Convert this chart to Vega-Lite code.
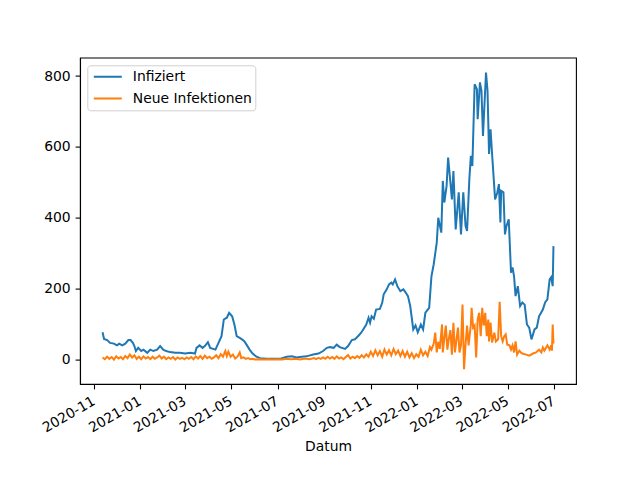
{
  "$schema": "https://vega.github.io/schema/vega-lite/v6.json",
  "width": 496,
  "height": 326.4,
  "autosize": {"type": "none"},
  "padding": {"left": 80, "top": 57.6, "right": 64, "bottom": 96},
  "config": {
    "font": "DejaVu Sans",
    "view": {"stroke": "black", "strokeWidth": 1.1},
    "axis": {
      "grid": false,
      "domainColor": "black",
      "domainWidth": 1.1,
      "tickColor": "black",
      "tickWidth": 1.1,
      "tickSize": 4.9,
      "labelPadding": 4.9,
      "labelFontSize": 13.9,
      "labelColor": "black",
      "labelOverlap": false,
      "titleFontSize": 13.9,
      "titleFontWeight": "normal",
      "titleColor": "black"
    }
  },
  "datasets": {
    "infiziert": [
      {"Datum": "2020-11-12", "Wert": 77}, {"Datum": "2020-11-14", "Wert": 58}, {"Datum": "2020-11-18", "Wert": 55}, {"Datum": "2020-11-22", "Wert": 47}, {"Datum": "2020-11-27", "Wert": 45},
      {"Datum": "2020-12-01", "Wert": 40}, {"Datum": "2020-12-04", "Wert": 45}, {"Datum": "2020-12-08", "Wert": 40}, {"Datum": "2020-12-12", "Wert": 45}, {"Datum": "2020-12-16", "Wert": 55},
      {"Datum": "2020-12-19", "Wert": 55}, {"Datum": "2020-12-22", "Wert": 47}, {"Datum": "2020-12-24", "Wert": 38}, {"Datum": "2020-12-26", "Wert": 24}, {"Datum": "2020-12-29", "Wert": 33},
      {"Datum": "2021-01-02", "Wert": 24}, {"Datum": "2021-01-05", "Wert": 28}, {"Datum": "2021-01-10", "Wert": 19}, {"Datum": "2021-01-14", "Wert": 28}, {"Datum": "2021-01-18", "Wert": 24},
      {"Datum": "2021-01-23", "Wert": 28}, {"Datum": "2021-01-27", "Wert": 38}, {"Datum": "2021-01-31", "Wert": 28}, {"Datum": "2021-02-04", "Wert": 24}, {"Datum": "2021-02-09", "Wert": 21},
      {"Datum": "2021-02-16", "Wert": 19}, {"Datum": "2021-02-22", "Wert": 19}, {"Datum": "2021-03-01", "Wert": 17}, {"Datum": "2021-03-08", "Wert": 19}, {"Datum": "2021-03-14", "Wert": 17},
      {"Datum": "2021-03-16", "Wert": 33}, {"Datum": "2021-03-20", "Wert": 40}, {"Datum": "2021-03-24", "Wert": 33}, {"Datum": "2021-03-27", "Wert": 38}, {"Datum": "2021-03-31", "Wert": 49},
      {"Datum": "2021-04-03", "Wert": 33}, {"Datum": "2021-04-10", "Wert": 28}, {"Datum": "2021-04-14", "Wert": 47}, {"Datum": "2021-04-18", "Wert": 66}, {"Datum": "2021-04-21", "Wert": 113},
      {"Datum": "2021-04-25", "Wert": 118}, {"Datum": "2021-04-28", "Wert": 132}, {"Datum": "2021-05-02", "Wert": 122}, {"Datum": "2021-05-05", "Wert": 99}, {"Datum": "2021-05-08", "Wert": 66},
      {"Datum": "2021-05-12", "Wert": 61}, {"Datum": "2021-05-15", "Wert": 57}, {"Datum": "2021-05-18", "Wert": 52}, {"Datum": "2021-05-21", "Wert": 42}, {"Datum": "2021-05-25", "Wert": 28},
      {"Datum": "2021-05-29", "Wert": 17}, {"Datum": "2021-06-03", "Wert": 8}, {"Datum": "2021-06-08", "Wert": 4}, {"Datum": "2021-06-17", "Wert": 2}, {"Datum": "2021-07-04", "Wert": 2},
      {"Datum": "2021-07-13", "Wert": 8}, {"Datum": "2021-07-20", "Wert": 9}, {"Datum": "2021-07-26", "Wert": 6}, {"Datum": "2021-08-02", "Wert": 8}, {"Datum": "2021-08-08", "Wert": 9},
      {"Datum": "2021-08-17", "Wert": 14}, {"Datum": "2021-08-24", "Wert": 17}, {"Datum": "2021-08-30", "Wert": 24}, {"Datum": "2021-09-04", "Wert": 33}, {"Datum": "2021-09-08", "Wert": 35},
      {"Datum": "2021-09-13", "Wert": 33}, {"Datum": "2021-09-17", "Wert": 42}, {"Datum": "2021-09-21", "Wert": 35}, {"Datum": "2021-09-28", "Wert": 30}, {"Datum": "2021-10-02", "Wert": 38},
      {"Datum": "2021-10-07", "Wert": 55}, {"Datum": "2021-10-11", "Wert": 57}, {"Datum": "2021-10-16", "Wert": 68}, {"Datum": "2021-10-19", "Wert": 75}, {"Datum": "2021-10-22", "Wert": 85},
      {"Datum": "2021-10-26", "Wert": 99}, {"Datum": "2021-10-29", "Wert": 118}, {"Datum": "2021-10-31", "Wert": 104}, {"Datum": "2021-11-02", "Wert": 122}, {"Datum": "2021-11-05", "Wert": 115},
      {"Datum": "2021-11-08", "Wert": 141}, {"Datum": "2021-11-13", "Wert": 143}, {"Datum": "2021-11-16", "Wert": 160}, {"Datum": "2021-11-18", "Wert": 184}, {"Datum": "2021-11-22", "Wert": 198},
      {"Datum": "2021-11-25", "Wert": 212}, {"Datum": "2021-11-28", "Wert": 217}, {"Datum": "2021-11-30", "Wert": 212}, {"Datum": "2021-12-03", "Wert": 226}, {"Datum": "2021-12-06", "Wert": 207},
      {"Datum": "2021-12-10", "Wert": 193}, {"Datum": "2021-12-14", "Wert": 198}, {"Datum": "2021-12-17", "Wert": 189}, {"Datum": "2021-12-20", "Wert": 179}, {"Datum": "2021-12-23", "Wert": 151},
      {"Datum": "2021-12-27", "Wert": 85}, {"Datum": "2021-12-30", "Wert": 96}, {"Datum": "2022-01-02", "Wert": 77}, {"Datum": "2022-01-06", "Wert": 99}, {"Datum": "2022-01-09", "Wert": 85},
      {"Datum": "2022-01-12", "Wert": 132}, {"Datum": "2022-01-17", "Wert": 146}, {"Datum": "2022-01-20", "Wert": 235}, {"Datum": "2022-01-23", "Wert": 269}, {"Datum": "2022-01-27", "Wert": 330},
      {"Datum": "2022-01-29", "Wert": 400}, {"Datum": "2022-02-02", "Wert": 358}, {"Datum": "2022-02-04", "Wert": 504}, {"Datum": "2022-02-06", "Wert": 443}, {"Datum": "2022-02-09", "Wert": 490},
      {"Datum": "2022-02-11", "Wert": 570}, {"Datum": "2022-02-14", "Wert": 500}, {"Datum": "2022-02-16", "Wert": 452}, {"Datum": "2022-02-18", "Wert": 532}, {"Datum": "2022-02-21", "Wert": 367},
      {"Datum": "2022-02-25", "Wert": 472}, {"Datum": "2022-02-28", "Wert": 353}, {"Datum": "2022-03-03", "Wert": 472}, {"Datum": "2022-03-06", "Wert": 377}, {"Datum": "2022-03-08", "Wert": 363},
      {"Datum": "2022-03-11", "Wert": 509}, {"Datum": "2022-03-13", "Wert": 575}, {"Datum": "2022-03-15", "Wert": 546}, {"Datum": "2022-03-18", "Wert": 777}, {"Datum": "2022-03-21", "Wert": 763},
      {"Datum": "2022-03-22", "Wert": 678}, {"Datum": "2022-03-25", "Wert": 782}, {"Datum": "2022-03-27", "Wert": 758}, {"Datum": "2022-03-29", "Wert": 631}, {"Datum": "2022-04-02", "Wert": 810},
      {"Datum": "2022-04-04", "Wert": 758}, {"Datum": "2022-04-06", "Wert": 580}, {"Datum": "2022-04-08", "Wert": 650}, {"Datum": "2022-04-10", "Wert": 580}, {"Datum": "2022-04-14", "Wert": 452},
      {"Datum": "2022-04-17", "Wert": 472}, {"Datum": "2022-04-19", "Wert": 495}, {"Datum": "2022-04-21", "Wert": 387}, {"Datum": "2022-04-22", "Wert": 476}, {"Datum": "2022-04-25", "Wert": 472},
      {"Datum": "2022-04-27", "Wert": 353}, {"Datum": "2022-04-29", "Wert": 377}, {"Datum": "2022-05-02", "Wert": 396}, {"Datum": "2022-05-05", "Wert": 245}, {"Datum": "2022-05-07", "Wert": 260},
      {"Datum": "2022-05-09", "Wert": 235}, {"Datum": "2022-05-11", "Wert": 179}, {"Datum": "2022-05-14", "Wert": 207}, {"Datum": "2022-05-17", "Wert": 151}, {"Datum": "2022-05-20", "Wert": 161},
      {"Datum": "2022-05-23", "Wert": 155}, {"Datum": "2022-05-26", "Wert": 99}, {"Datum": "2022-05-29", "Wert": 90}, {"Datum": "2022-06-01", "Wert": 57}, {"Datum": "2022-06-05", "Wert": 85},
      {"Datum": "2022-06-08", "Wert": 90}, {"Datum": "2022-06-11", "Wert": 122}, {"Datum": "2022-06-16", "Wert": 141}, {"Datum": "2022-06-19", "Wert": 161}, {"Datum": "2022-06-22", "Wert": 170},
      {"Datum": "2022-06-25", "Wert": 226}, {"Datum": "2022-06-27", "Wert": 232}, {"Datum": "2022-06-29", "Wert": 207}, {"Datum": "2022-06-30", "Wert": 320}
    ],
    "neu": [
      {"Datum": "2020-11-12", "Wert": 6}, {"Datum": "2020-11-15", "Wert": 1}, {"Datum": "2020-11-18", "Wert": 8}, {"Datum": "2020-11-21", "Wert": 2}, {"Datum": "2020-11-24", "Wert": 7},
      {"Datum": "2020-11-27", "Wert": 0}, {"Datum": "2020-11-30", "Wert": 9}, {"Datum": "2020-12-03", "Wert": 3}, {"Datum": "2020-12-06", "Wert": 7}, {"Datum": "2020-12-09", "Wert": 1},
      {"Datum": "2020-12-12", "Wert": 10}, {"Datum": "2020-12-15", "Wert": 4}, {"Datum": "2020-12-18", "Wert": 14}, {"Datum": "2020-12-21", "Wert": 6}, {"Datum": "2020-12-24", "Wert": 12},
      {"Datum": "2020-12-27", "Wert": 2}, {"Datum": "2020-12-30", "Wert": 8}, {"Datum": "2021-01-02", "Wert": 1}, {"Datum": "2021-01-05", "Wert": 9}, {"Datum": "2021-01-08", "Wert": 3},
      {"Datum": "2021-01-11", "Wert": 7}, {"Datum": "2021-01-14", "Wert": 1}, {"Datum": "2021-01-17", "Wert": 8}, {"Datum": "2021-01-20", "Wert": 2}, {"Datum": "2021-01-23", "Wert": 6},
      {"Datum": "2021-01-26", "Wert": 11}, {"Datum": "2021-01-29", "Wert": 3}, {"Datum": "2021-02-01", "Wert": 8}, {"Datum": "2021-02-04", "Wert": 1}, {"Datum": "2021-02-07", "Wert": 6},
      {"Datum": "2021-02-10", "Wert": 2}, {"Datum": "2021-02-13", "Wert": 7}, {"Datum": "2021-02-16", "Wert": 0}, {"Datum": "2021-02-19", "Wert": 6}, {"Datum": "2021-02-22", "Wert": 2},
      {"Datum": "2021-02-25", "Wert": 5}, {"Datum": "2021-02-28", "Wert": 1}, {"Datum": "2021-03-03", "Wert": 6}, {"Datum": "2021-03-06", "Wert": 2}, {"Datum": "2021-03-09", "Wert": 7},
      {"Datum": "2021-03-12", "Wert": 1}, {"Datum": "2021-03-15", "Wert": 9}, {"Datum": "2021-03-18", "Wert": 3}, {"Datum": "2021-03-21", "Wert": 10}, {"Datum": "2021-03-24", "Wert": 2},
      {"Datum": "2021-03-27", "Wert": 11}, {"Datum": "2021-03-30", "Wert": 4}, {"Datum": "2021-04-02", "Wert": 8}, {"Datum": "2021-04-05", "Wert": 2}, {"Datum": "2021-04-08", "Wert": 6},
      {"Datum": "2021-04-11", "Wert": 12}, {"Datum": "2021-04-14", "Wert": 4}, {"Datum": "2021-04-17", "Wert": 15}, {"Datum": "2021-04-20", "Wert": 8}, {"Datum": "2021-04-23", "Wert": 24},
      {"Datum": "2021-04-25", "Wert": 10}, {"Datum": "2021-04-27", "Wert": 22}, {"Datum": "2021-04-30", "Wert": 8}, {"Datum": "2021-05-03", "Wert": 14}, {"Datum": "2021-05-06", "Wert": 3},
      {"Datum": "2021-05-09", "Wert": 8}, {"Datum": "2021-05-12", "Wert": 20}, {"Datum": "2021-05-14", "Wert": 4}, {"Datum": "2021-05-17", "Wert": 6}, {"Datum": "2021-05-20", "Wert": 2},
      {"Datum": "2021-05-23", "Wert": 4}, {"Datum": "2021-05-26", "Wert": 1}, {"Datum": "2021-05-29", "Wert": 2}, {"Datum": "2021-06-01", "Wert": 0}, {"Datum": "2021-06-07", "Wert": 1},
      {"Datum": "2021-06-13", "Wert": 0}, {"Datum": "2021-06-19", "Wert": 1}, {"Datum": "2021-06-25", "Wert": 0}, {"Datum": "2021-07-01", "Wert": 1}, {"Datum": "2021-07-07", "Wert": 0},
      {"Datum": "2021-07-13", "Wert": 2}, {"Datum": "2021-07-19", "Wert": 1}, {"Datum": "2021-07-25", "Wert": 2}, {"Datum": "2021-07-31", "Wert": 0}, {"Datum": "2021-08-06", "Wert": 3},
      {"Datum": "2021-08-12", "Wert": 1}, {"Datum": "2021-08-18", "Wert": 4}, {"Datum": "2021-08-21", "Wert": 1}, {"Datum": "2021-08-24", "Wert": 5}, {"Datum": "2021-08-27", "Wert": 2},
      {"Datum": "2021-08-30", "Wert": 6}, {"Datum": "2021-09-02", "Wert": 2}, {"Datum": "2021-09-05", "Wert": 8}, {"Datum": "2021-09-08", "Wert": 3}, {"Datum": "2021-09-11", "Wert": 7},
      {"Datum": "2021-09-14", "Wert": 2}, {"Datum": "2021-09-17", "Wert": 9}, {"Datum": "2021-09-20", "Wert": 3}, {"Datum": "2021-09-23", "Wert": 6}, {"Datum": "2021-09-26", "Wert": 1},
      {"Datum": "2021-09-29", "Wert": 7}, {"Datum": "2021-10-02", "Wert": 13}, {"Datum": "2021-10-05", "Wert": 3}, {"Datum": "2021-10-08", "Wert": 8}, {"Datum": "2021-10-11", "Wert": 4},
      {"Datum": "2021-10-14", "Wert": 10}, {"Datum": "2021-10-17", "Wert": 5}, {"Datum": "2021-10-20", "Wert": 12}, {"Datum": "2021-10-23", "Wert": 6}, {"Datum": "2021-10-26", "Wert": 15},
      {"Datum": "2021-10-29", "Wert": 8}, {"Datum": "2021-11-01", "Wert": 22}, {"Datum": "2021-11-04", "Wert": 10}, {"Datum": "2021-11-07", "Wert": 26}, {"Datum": "2021-11-10", "Wert": 12},
      {"Datum": "2021-11-13", "Wert": 24}, {"Datum": "2021-11-16", "Wert": 8}, {"Datum": "2021-11-19", "Wert": 28}, {"Datum": "2021-11-22", "Wert": 14}, {"Datum": "2021-11-25", "Wert": 26},
      {"Datum": "2021-11-28", "Wert": 12}, {"Datum": "2021-12-01", "Wert": 30}, {"Datum": "2021-12-04", "Wert": 15}, {"Datum": "2021-12-07", "Wert": 25}, {"Datum": "2021-12-10", "Wert": 10},
      {"Datum": "2021-12-13", "Wert": 24}, {"Datum": "2021-12-16", "Wert": 8}, {"Datum": "2021-12-19", "Wert": 22}, {"Datum": "2021-12-22", "Wert": 6}, {"Datum": "2021-12-25", "Wert": 18},
      {"Datum": "2021-12-28", "Wert": 4}, {"Datum": "2021-12-31", "Wert": 15}, {"Datum": "2022-01-03", "Wert": 8}, {"Datum": "2022-01-06", "Wert": 28}, {"Datum": "2022-01-09", "Wert": 12},
      {"Datum": "2022-01-12", "Wert": 22}, {"Datum": "2022-01-15", "Wert": 10}, {"Datum": "2022-01-18", "Wert": 35}, {"Datum": "2022-01-20", "Wert": 28}, {"Datum": "2022-01-23", "Wert": 45},
      {"Datum": "2022-01-25", "Wert": 76}, {"Datum": "2022-01-27", "Wert": 20}, {"Datum": "2022-01-29", "Wert": 50}, {"Datum": "2022-01-31", "Wert": 30}, {"Datum": "2022-02-03", "Wert": 99},
      {"Datum": "2022-02-04", "Wert": 20}, {"Datum": "2022-02-06", "Wert": 60}, {"Datum": "2022-02-08", "Wert": 96}, {"Datum": "2022-02-10", "Wert": 28}, {"Datum": "2022-02-12", "Wert": 60},
      {"Datum": "2022-02-14", "Wert": 83}, {"Datum": "2022-02-16", "Wert": 14}, {"Datum": "2022-02-18", "Wert": 104}, {"Datum": "2022-02-20", "Wert": 20}, {"Datum": "2022-02-24", "Wert": 90},
      {"Datum": "2022-02-26", "Wert": 20}, {"Datum": "2022-02-28", "Wert": 40}, {"Datum": "2022-03-02", "Wert": 155}, {"Datum": "2022-03-04", "Wert": -27}, {"Datum": "2022-03-06", "Wert": 42},
      {"Datum": "2022-03-08", "Wert": 96}, {"Datum": "2022-03-10", "Wert": 40}, {"Datum": "2022-03-13", "Wert": 99}, {"Datum": "2022-03-14", "Wert": 146}, {"Datum": "2022-03-16", "Wert": 90},
      {"Datum": "2022-03-18", "Wert": 96}, {"Datum": "2022-03-20", "Wert": 6}, {"Datum": "2022-03-22", "Wert": 113}, {"Datum": "2022-03-24", "Wert": 132}, {"Datum": "2022-03-26", "Wert": 66},
      {"Datum": "2022-03-28", "Wert": 146}, {"Datum": "2022-03-30", "Wert": 96}, {"Datum": "2022-04-01", "Wert": 132}, {"Datum": "2022-04-03", "Wert": 66}, {"Datum": "2022-04-05", "Wert": 113},
      {"Datum": "2022-04-06", "Wert": 51}, {"Datum": "2022-04-08", "Wert": 104}, {"Datum": "2022-04-10", "Wert": 48}, {"Datum": "2022-04-13", "Wert": 76}, {"Datum": "2022-04-15", "Wert": 51},
      {"Datum": "2022-04-18", "Wert": 57}, {"Datum": "2022-04-20", "Wert": 163}, {"Datum": "2022-04-22", "Wert": 66}, {"Datum": "2022-04-24", "Wert": 51}, {"Datum": "2022-04-26", "Wert": 66},
      {"Datum": "2022-04-28", "Wert": 71}, {"Datum": "2022-04-30", "Wert": 42}, {"Datum": "2022-05-03", "Wert": 40}, {"Datum": "2022-05-05", "Wert": 28}, {"Datum": "2022-05-07", "Wert": 40},
      {"Datum": "2022-05-09", "Wert": 20}, {"Datum": "2022-05-11", "Wert": 51}, {"Datum": "2022-05-13", "Wert": 14}, {"Datum": "2022-05-16", "Wert": 25}, {"Datum": "2022-05-18", "Wert": 20},
      {"Datum": "2022-05-20", "Wert": 17}, {"Datum": "2022-05-25", "Wert": 14}, {"Datum": "2022-05-29", "Wert": 11}, {"Datum": "2022-06-03", "Wert": 17}, {"Datum": "2022-06-07", "Wert": 20},
      {"Datum": "2022-06-11", "Wert": 28}, {"Datum": "2022-06-14", "Wert": 20}, {"Datum": "2022-06-16", "Wert": 34}, {"Datum": "2022-06-18", "Wert": 25}, {"Datum": "2022-06-22", "Wert": 40},
      {"Datum": "2022-06-25", "Wert": 28}, {"Datum": "2022-06-27", "Wert": 40}, {"Datum": "2022-06-28", "Wert": 25}, {"Datum": "2022-06-29", "Wert": 99}, {"Datum": "2022-06-30", "Wert": 45}
    ]
  },
  "encoding": {
    "x": {
      "field": "Datum",
      "type": "temporal",
      "scale": {
        "type": "utc",
        "domain": [
          {"year": 2020, "month": 10, "date": 13, "hours": 6, "utc": true},
          {"year": 2022, "month": 7, "date": 29, "hours": 18, "utc": true}
        ]
      },
      "axis": {
        "title": "Datum",
        "format": "%Y-%m",
        "labelAngle": -30,
        "labelAlign": "right",
        "labelBaseline": "top",
        "labelOffset": -4,
        "titlePadding": 5,
        "values": [
          {"year": 2020, "month": 11, "date": 1, "utc": true},
          {"year": 2021, "month": 1, "date": 1, "utc": true},
          {"year": 2021, "month": 3, "date": 1, "utc": true},
          {"year": 2021, "month": 5, "date": 1, "utc": true},
          {"year": 2021, "month": 7, "date": 1, "utc": true},
          {"year": 2021, "month": 9, "date": 1, "utc": true},
          {"year": 2021, "month": 11, "date": 1, "utc": true},
          {"year": 2022, "month": 1, "date": 1, "utc": true},
          {"year": 2022, "month": 3, "date": 1, "utc": true},
          {"year": 2022, "month": 5, "date": 1, "utc": true},
          {"year": 2022, "month": 7, "date": 1, "utc": true}
        ]
      }
    },
    "y": {
      "field": "Wert",
      "type": "quantitative",
      "scale": {"domain": [-69, 852], "nice": false, "zero": false},
      "axis": {"title": null, "values": [0, 200, 400, 600, 800]}
    }
  },
  "layer": [
    {
      "data": {"name": "infiziert"},
      "mark": {"type": "line", "strokeWidth": 2, "clip": true},
      "encoding": {
        "color": {
          "datum": "Infiziert",
          "type": "nominal",
          "scale": {"domain": ["Infiziert", "Neue Infektionen"], "range": ["#1f77b4", "#ff7f0e"]},
          "legend": {
            "title": null,
            "orient": "none",
            "legendX": 7.3,
            "legendY": 7.7,
            "symbolType": "stroke",
            "symbolSize": 784,
            "symbolStrokeWidth": 2,
            "symbolOffset": 3,
            "clipHeight": 18,
            "labelFontSize": 13.9,
            "labelColor": "black",
            "labelOffset": 10,
            "rowPadding": 3.7,
            "padding": 2.5,
            "strokeColor": "#d0d0d0",
            "fillColor": "white",
            "cornerRadius": 3
          }
        }
      }
    },
    {
      "data": {"name": "neu"},
      "mark": {"type": "line", "strokeWidth": 2, "clip": true},
      "encoding": {
        "color": {"datum": "Neue Infektionen", "type": "nominal"}
      }
    }
  ]
}
